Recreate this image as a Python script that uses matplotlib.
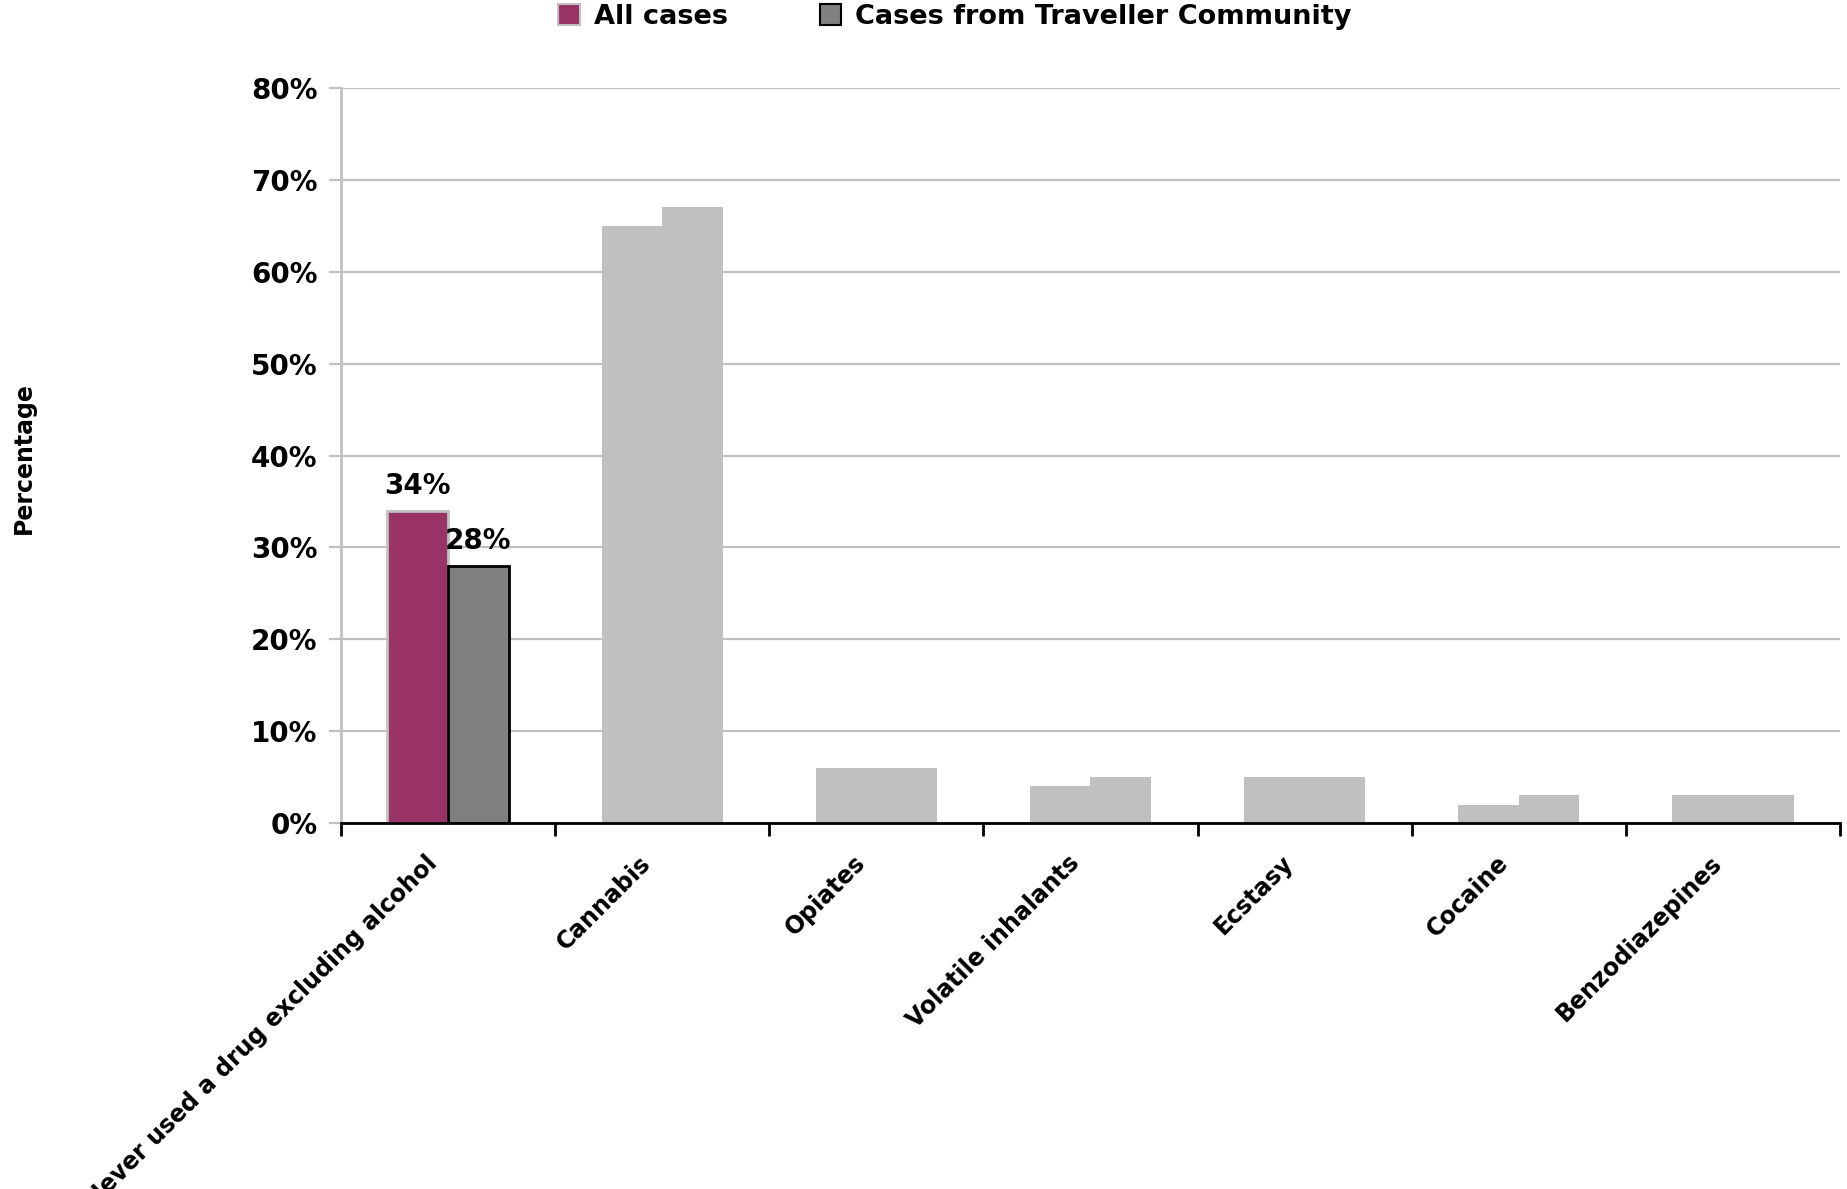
import numpy as np
import matplotlib
matplotlib.use("Agg")
import matplotlib.pyplot as plt
from matplotlib.patches import Patch
from matplotlib.ticker import PercentFormatter
import matplotlib.transforms as mtransforms

categories = ["Never used a drug excluding alcohol", "Cannabis", "Opiates",
              "Volatile inhalants", "Ecstasy", "Cocaine", "Benzodiazepines"]
all_cases = [34, 65, 6, 4, 5, 2, 3]
traveller = [28, 67, 6, 5, 5, 3, 3]
labelled = 0   # only the first group carries colours and value labels

plt.rcParams["font.family"] = ["DejaVu Sans"]
plt.rcParams["font.weight"] = "bold"

fig = plt.figure(figsize=(18.47, 11.89), dpi=100)
ax = fig.add_axes([0.1846, 0.3078, 0.8116, 0.6182])

x = np.arange(len(categories))
w = 0.283
grey = "#c0c0c0"
c_all = [("#993366" if i == labelled else grey) for i in range(len(categories))]
c_trav = [("#808080" if i == labelled else grey) for i in range(len(categories))]
e_all = [(grey if i == labelled else "none") for i in range(len(categories))]
e_trav = [("black" if i == labelled else "none") for i in range(len(categories))]

ax.bar(x - w / 2, np.array(all_cases) / 100, w, color=c_all, edgecolor=e_all, linewidth=2, zorder=3)
ax.bar(x + w / 2, np.array(traveller) / 100, w, color=c_trav, edgecolor=e_trav, linewidth=2, zorder=3)

ax.text(x[labelled] - w / 2, all_cases[labelled] / 100 + 0.012, f"{all_cases[labelled]}%",
        ha="center", va="bottom", fontsize=20, fontweight="bold", zorder=4)
ax.text(x[labelled] + w / 2, traveller[labelled] / 100 + 0.012, f"{traveller[labelled]}%",
        ha="center", va="bottom", fontsize=20, fontweight="bold", zorder=4)

ax.set_xlim(-0.5, len(categories) - 0.5)
ax.set_ylim(0, 0.8)
ax.set_yticks(np.arange(0, 0.81, 0.1))
ax.yaxis.set_major_formatter(PercentFormatter(1.0, decimals=0))
ax.grid(axis="y", color=grey, linewidth=1.6, zorder=0)

for s in ["top", "right"]:
    ax.spines[s].set_visible(False)
ax.spines["left"].set_color(grey)
ax.spines["left"].set_linewidth(2)
ax.spines["bottom"].set_color("black")
ax.spines["bottom"].set_linewidth(2)
ax.spines["bottom"].set_zorder(5)

ax.tick_params(axis="y", colors=grey, length=9, width=1.6, labelcolor="black", labelsize=20, pad=8)
ax.set_xticks(x)
ax.set_xticks(np.arange(-0.5, len(categories)), minor=True)
ax.tick_params(axis="x", which="major", length=0, labelsize=17, pad=20)
ax.tick_params(axis="x", which="minor", length=9, width=2, color="black")
ax.set_xticklabels(categories, rotation=45, ha="right", rotation_mode="anchor")
offset = mtransforms.ScaledTranslation(-0.23, 0, fig.dpi_scale_trans)
for lbl in ax.get_xticklabels():
    lbl.set_transform(lbl.get_transform() + offset)

fig.text(0.013, 0.615, "Percentage", rotation=90, ha="center", va="center",
         fontsize=17, fontweight="bold")

handles = [Patch(facecolor="#993366", edgecolor=grey, linewidth=1.5),
           Patch(facecolor="#808080", edgecolor="black", linewidth=1.5)]
fig.legend(handles, ["All cases", "Cases from Traveller Community"], loc="center",
           bbox_to_anchor=(0.517, 0.986), ncol=2, frameon=False, handlelength=0.8,
           handleheight=0.8, handletextpad=0.5, columnspacing=3.4,
           prop={"weight": "bold", "size": 19.5})

fig.savefig("out.png", dpi=100)
